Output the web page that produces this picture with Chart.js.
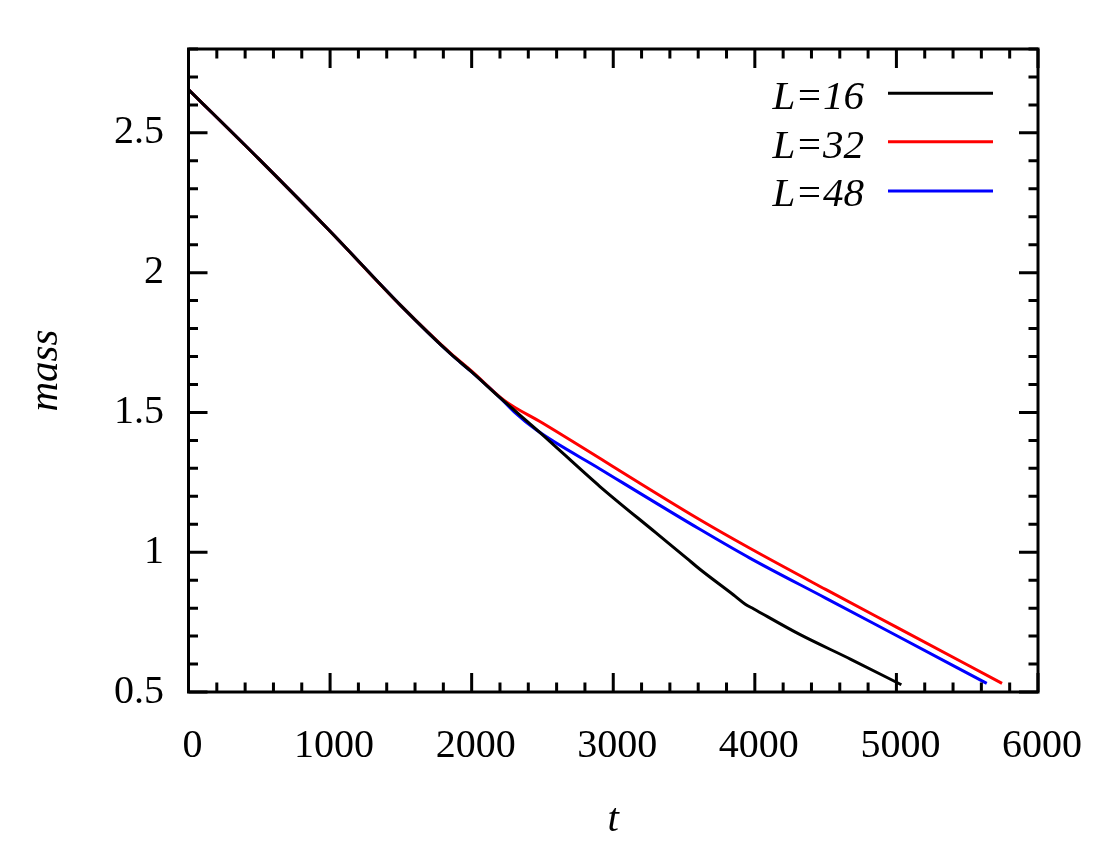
<!DOCTYPE html>
<html>
<head>
<meta charset="utf-8">
<script src="https://cdn.jsdelivr.net/npm/chart.js@4.4.1/dist/chart.umd.min.js"></script>
<style>
  html, body { margin: 0; padding: 0; background: #ffffff; }
  #wrap { width: 1100px; height: 850px; }
</style>
</head>
<body>
<div id="wrap"><canvas id="c" width="1100" height="850"></canvas></div>
<script>
// ---- data ----
const seriesNames = ["L=16", "L=32", "L=48"];
const seriesColors = ["#000000", "#ff0000", "#0000ff"];

const t16 = [0, 500, 1000, 1500, 1850, 2000, 2200, 2483, 2906, 3300, 3518, 3612, 3850, 3930, 3990, 4317, 4678, 5035];
const m16 = [2.655, 2.405, 2.148, 1.882, 1.710, 1.645, 1.553, 1.428, 1.235, 1.070, 0.979, 0.939, 0.847, 0.815, 0.798, 0.706, 0.617, 0.526];

const t32 = [0, 500, 1000, 1500, 1850, 2000, 2230, 2500, 3612, 3965, 4500, 5000, 5746];
const m32 = [2.655, 2.405, 2.148, 1.882, 1.712, 1.648, 1.543, 1.462, 1.116, 1.014, 0.867, 0.732, 0.531];

const t48 = [0, 500, 1000, 1500, 1850, 2000, 2200, 2300, 2460, 2906, 3612, 3965, 4500, 5000, 5638];
const m48 = [2.655, 2.405, 2.148, 1.882, 1.710, 1.645, 1.553, 1.502, 1.436, 1.298, 1.082, 0.979, 0.836, 0.702, 0.531];

const xTickValues = [0, 1000, 2000, 3000, 4000, 5000, 6000];
const yTickValues = [0.5, 1, 1.5, 2, 2.5];
const xMinorStep = 200;
const yMinorStep = 0.1;
const xRange = [0, 6000];
const yRange = [0.5, 2.8];
const xTitle = "t";
const yTitle = "mass";

// ---- build datasets ----
function pts(ts, ms) { return ts.map((t, i) => ({ x: t, y: ms[i] })); }
const allT = [t16, t32, t48];
const allM = [m16, m32, m48];
const datasets = seriesNames.map((name, i) => ({
  label: name,
  data: pts(allT[i], allM[i]),
  borderColor: seriesColors[i],
  backgroundColor: seriesColors[i],
  borderWidth: 3,
  pointRadius: 0,
  cubicInterpolationMode: 'monotone',
  fill: false,
  borderJoinStyle: 'round'
}));

const SERIF = "'Liberation Serif', 'Times New Roman', serif";

const framePlugin = {
  id: 'frame',
  afterDatasetsDraw(chart) {
    const ctx = chart.ctx;
    const a = chart.chartArea;
    const xs = chart.scales.x, ys = chart.scales.y;
    ctx.save();
    ctx.strokeStyle = '#000';
    ctx.lineWidth = 3;
    ctx.lineCap = 'butt';
    // ticks, inward on all four sides
    const majorLen = 19, minorLen = 9.5;
    ctx.beginPath();
    for (let k = 0; ; k++) {
      const v = xRange[0] + k * xMinorStep;
      if (v > xRange[1] + 1e-9) break;
      const isMajor = xTickValues.some(m => Math.abs(m - v) < 1e-6);
      const len = isMajor ? majorLen : minorLen;
      const px = xs.getPixelForValue(v);
      ctx.moveTo(px, a.bottom); ctx.lineTo(px, a.bottom - len);
      ctx.moveTo(px, a.top); ctx.lineTo(px, a.top + len);
    }
    for (let k = 0; ; k++) {
      const v = yRange[0] + k * yMinorStep;
      if (v > yRange[1] + 1e-9) break;
      const isMajor = yTickValues.some(m => Math.abs(m - v) < 1e-6);
      const len = isMajor ? majorLen : minorLen;
      const py = ys.getPixelForValue(v);
      ctx.moveTo(a.left, py); ctx.lineTo(a.left + len, py);
      ctx.moveTo(a.right, py); ctx.lineTo(a.right - len, py);
    }
    ctx.stroke();
    // frame
    ctx.lineWidth = 3;
    ctx.strokeRect(a.left, a.top, a.right - a.left, a.bottom - a.top);

    // axis titles
    ctx.fillStyle = '#000';
    ctx.font = "italic 41px " + SERIF;
    ctx.textAlign = 'center';
    ctx.textBaseline = 'alphabetic';
    ctx.fillText(xTitle, (a.left + a.right) / 2, 831);
    ctx.save();
    ctx.translate(57, (a.top + a.bottom) / 2);
    ctx.rotate(-Math.PI / 2);
    ctx.fillText(yTitle, 0, 0);
    ctx.restore();

    // legend (text on the left, line sample on the right)
    const baselines = [109, 157.5, 205.7];
    const lineYs = [93.3, 141.7, 191];
    ctx.textAlign = 'right';
    ctx.font = "italic 41px " + SERIF;
    for (let i = 0; i < seriesNames.length; i++) {
      ctx.fillStyle = '#000';
      ctx.fillText(seriesNames[i], 864, baselines[i]);
      ctx.strokeStyle = seriesColors[i];
      ctx.lineWidth = 3;
      ctx.beginPath();
      ctx.moveTo(888, lineYs[i]); ctx.lineTo(993, lineYs[i]);
      ctx.stroke();
    }
    ctx.restore();
  }
};

new Chart(document.getElementById('c'), {
  type: 'line',
  data: { datasets },
  options: {
    responsive: false,
    animation: false,
    devicePixelRatio: 1,
    layout: { padding: { left: 0, right: 62, top: 49, bottom: 0 } },
    plugins: { legend: { display: false }, tooltip: { enabled: false } },
    scales: {
      x: {
        type: 'linear',
        min: xRange[0], max: xRange[1],
        grid: { display: false, drawTicks: false },
        border: { display: false },
        afterBuildTicks(scale) { scale.ticks = xTickValues.map(v => ({ value: v })); },
        afterFit(scale) { scale.height = 158; scale.paddingLeft = 0; scale.paddingRight = 0; },
        ticks: {
          color: '#000',
          font: { family: SERIF, size: 40 },
          padding: 30,
          labelOffset: 4,
          maxRotation: 0,
          autoSkip: false,
          callback: (v) => String(v)
        }
      },
      y: {
        type: 'linear',
        min: yRange[0], max: yRange[1],
        grid: { display: false, drawTicks: false },
        border: { display: false },
        afterBuildTicks(scale) { scale.ticks = yTickValues.map(v => ({ value: v })); },
        afterFit(scale) { scale.width = 188.5; scale.paddingTop = 0; scale.paddingBottom = 0; },
        ticks: {
          color: '#000',
          font: { family: SERIF, size: 40 },
          padding: 24.5,
          autoSkip: false,
          callback: (v) => String(v)
        }
      }
    }
  },
  plugins: [framePlugin]
});
</script>
</body>
</html>
